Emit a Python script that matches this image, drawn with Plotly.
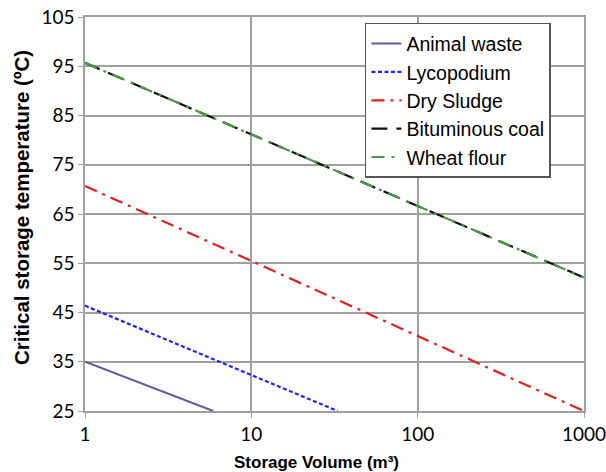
import plotly.graph_objects as go

names = ["Animal waste", "Lycopodium", "Dry Sludge", "Bituminous coal", "Wheat flour"]
x_vals = [[1, 5.9], [1, 33], [1, 1000], [1, 1000], [1, 1000]]
y_vals = [[35, 25], [46.4, 25], [70.7, 25], [95.7, 52.1], [95.7, 52.1]]
colors = ["#5c5c9c", "#2020ff", "#e02020", "#111111", "#4a9a4a"]
dashes = ["solid", "4px,2.5px", "13px,6px,3px,6px", "16px,9px", "13px,7px,3px,7px"]
widths = [2, 2.2, 2.2, 2.2, 2.2]
x_ticks = [1, 10, 100, 1000]
y_ticks = [25, 35, 45, 55, 65, 75, 85, 95, 105]
x_title = "Storage Volume (m³)"
y_title = "Critical storage temperature (ºC)"

fig = go.Figure()
for n, xs, ys, c, d, w in zip(names, x_vals, y_vals, colors, dashes, widths):
    fig.add_trace(go.Scatter(x=xs, y=ys, mode="lines", name=n,
                             line=dict(color=c, dash=d, width=w)))

fig.update_layout(
    width=606, height=472,
    margin=dict(l=85, r=22, t=17, b=61, autoexpand=False),
    paper_bgcolor="white", plot_bgcolor="white",
    font=dict(family="Liberation Sans, Arial", color="black"),
    showlegend=True,
    legend=dict(x=0.561, y=0.985, xanchor="left", yanchor="top",
                bgcolor="white", bordercolor="#555555", borderwidth=1.5,
                font=dict(size=19.5, family="Liberation Sans, Arial"),
                tracegroupgap=0, itemwidth=30),
    annotations=[
        dict(text="<b>" + x_title + "</b>", xref="paper", yref="paper",
             x=(316 - 85) / 499, y=-(462 - 411) / 394, xanchor="center", yanchor="middle",
             showarrow=False, font=dict(size=17)),
        dict(text="<b>" + y_title + "</b>", xref="paper", yref="paper",
             x=-(85 - 22) / 499, y=(411 - 208) / 394, xanchor="center", yanchor="middle",
             textangle=-90, showarrow=False, font=dict(size=20.5)),
    ],
)
fig.update_xaxes(type="log", range=[0, 3], tickvals=x_ticks,
                 ticktext=[str(t) for t in x_ticks], automargin=False,
                 ticklabeloverflow="allow",
                 showgrid=True, gridcolor="#a0a0a0", gridwidth=1.5,
                 zeroline=False, showline=True, linecolor="#a0a0a0", linewidth=1.5, mirror=True,
                 ticks="outside", ticklen=5, tickcolor="#a0a0a0",
                 tickfont=dict(size=19, family="Lato, Liberation Sans"))
fig.update_yaxes(range=[25, 105], tickvals=y_ticks, automargin=False,
                 showgrid=True, gridcolor="#a0a0a0", gridwidth=1.5,
                 zeroline=False, showline=True, linecolor="#a0a0a0", linewidth=1.5, mirror=True,
                 ticks="outside", ticklen=5, tickcolor="#a0a0a0",
                 tickfont=dict(size=19, family="Lato, Liberation Sans"))

fig.write_html("out.html")
